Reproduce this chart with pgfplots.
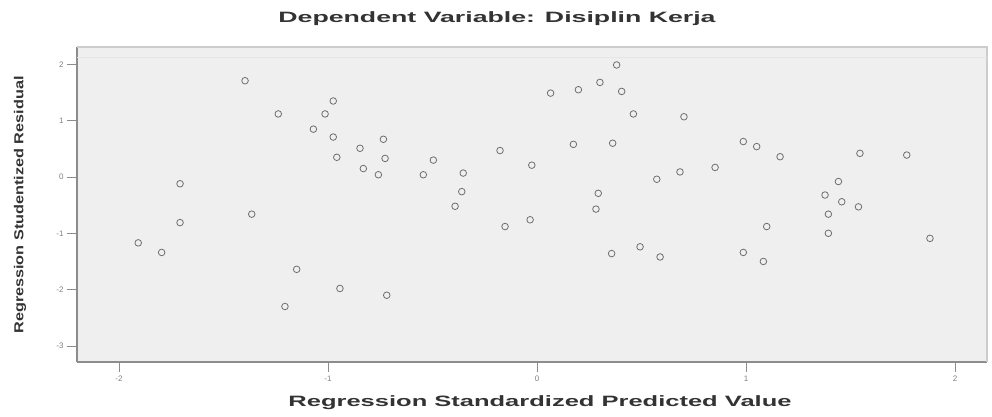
\documentclass[border=0pt]{standalone}
\usepackage{pgfplots}
\pgfplotsset{compat=1.18}
\usepackage{fontspec}
\setmainfont{Liberation Sans}
\usepackage{graphicx}
\definecolor{bgplot}{HTML}{EFEFEF}
\definecolor{frame}{HTML}{8C8C8C}
\definecolor{mk}{HTML}{6E6E6E}
\begin{document}
\begin{tikzpicture}[x=1pt,y=1pt]
\path[use as bounding box] (-77,-54) rectangle (915,362);
\begin{axis}[
  at={(0,0)}, anchor=south west,
  scale only axis, width=910pt, height=315pt,
  xmin=-2.201, xmax=2.153, ymin=-3.286, ymax=2.309,
  xtick={-2,-1,0,1,2}, ytick={-3,-2,-1,0,1,2},
  tick align=outside, major tick length=10pt,
  tick style={frame, line width=0.8pt},
  axis background/.style={fill=bgplot},
  axis line style={frame, line width=1.2pt},
  axis x line*=bottom, axis y line*=left,
  ticklabel style={font=\fontsize{8}{9}\selectfont, text=gray},
  /pgf/number format/assume math mode=true,
  clip=false,
]
\draw[gray!40, line width=1.5pt] (rel axis cs:0,1) -- (rel axis cs:1,1) -- (rel axis cs:1,0);
\draw[gray!20, line width=1pt] (rel axis cs:0,0.967) -- (rel axis cs:1,0.967);
\addplot[only marks, mark=o, mark size=3.3pt, mark options={draw=mk, line width=0.8pt}] coordinates {
(-1.397,1.71) (-1.238,1.12) (-1.014,1.12) (-1.070,0.85) (-0.975,0.71)
(-0.847,0.51) (-0.958,0.35) (-0.727,0.33) (-0.831,0.15) (-0.759,0.04)
(-0.496,0.30) (-0.544,0.04) (-0.353,0.07) (-0.360,-0.26) (-0.392,-0.52)
(-0.177,0.47) (-0.025,0.21) (-0.153,-0.88) (-1.708,-0.12) (-1.365,-0.66)
(-1.708,-0.81) (-1.908,-1.17) (-1.796,-1.34) (-1.150,-1.64) (-0.943,-1.98)
(-1.206,-2.30) (-0.975,1.35) (-0.735,0.67) (-0.719,-2.10) (-0.033,-0.76)
(0.381,1.99) (0.301,1.68) (0.198,1.55) (0.065,1.49) (0.405,1.52)
(0.461,1.12) (0.703,1.07) (0.174,0.58) (0.362,0.60) (0.573,-0.04)
(0.684,0.09) (0.852,0.17) (0.987,0.63) (1.051,0.54) (1.163,0.36)
(1.545,0.42) (1.769,0.39) (0.293,-0.29) (0.282,-0.57) (1.442,-0.08)
(1.378,-0.32) (1.458,-0.44) (1.538,-0.53) (1.394,-0.66) (1.394,-1.00)
(1.099,-0.88) (0.987,-1.34) (1.083,-1.50) (1.880,-1.09) (0.493,-1.24)
(0.357,-1.36) (0.589,-1.42)
};
\end{axis}
\node[font=\bfseries\fontsize{15}{17}\selectfont, text=black!80] at (420,343) {\scalebox{1.78}[1]{Dependent Variable: Disiplin Kerja}};
\node[font=\bfseries\fontsize{15}{17}\selectfont, text=black!80] at (463,-41) {\scalebox{1.7}[1]{Regression Standardized Predicted Value}};
\node[font=\bfseries\fontsize{13}{15}\selectfont, text=black!80, rotate=90] at (-57,157) {\scalebox{1.25}[1]{Regression Studentized Residual}};
\end{tikzpicture}
\end{document}
